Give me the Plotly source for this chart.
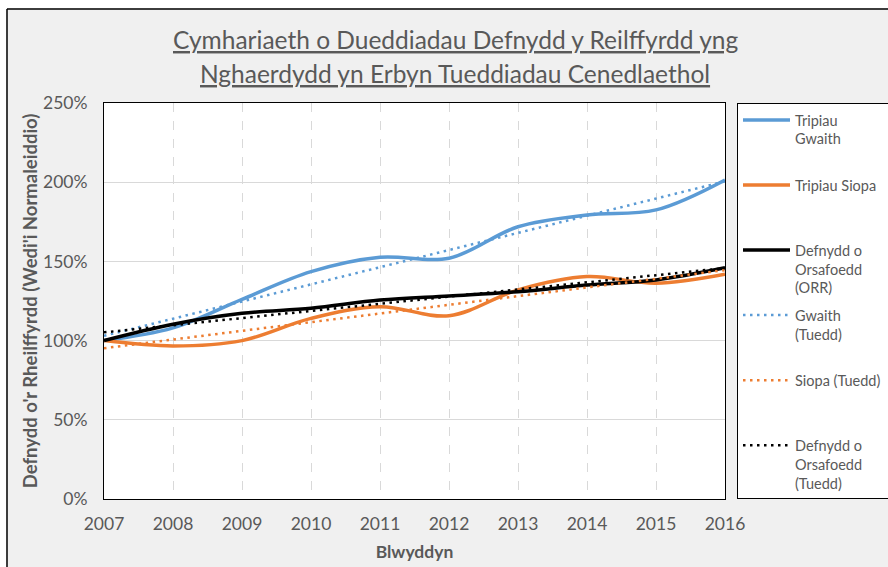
import plotly.graph_objects as go

years = [2007, 2008, 2009, 2010, 2011, 2012, 2013, 2014, 2015, 2016]
gwaith = [100, 108, 126, 143.5, 152.6, 152, 171.9, 179.3, 182.5, 201.4]
siopa = [100, 96.6, 100, 114, 121.4, 115.7, 132, 140.4, 136.2, 141.9]
orr = [100, 110.3, 117.2, 120.4, 125.6, 128.2, 130.9, 135.1, 138.3, 146]

trend_years = [2007, 2016]
gwaith_trend = [103, 200.5]
siopa_trend = [95.2, 144.5]
orr_trend = [105.2, 145.8]

NB = "\u00a0"
names = ["Tripiau<br>Gwaith<br>" + NB, "Tripiau Siopa<br>" + NB + "<br>" + NB * 40,
         "Defnydd o<br>Orsafoedd<br>(ORR)", "Gwaith<br>(Tuedd)<br>" + NB,
         "Siopa (Tuedd)<br>" + NB + "<br>" + NB, "Defnydd o<br>Orsafoedd<br>(Tuedd)"]

BLUE = "#5B9BD5"
ORANGE = "#ED7D31"
BLACK = "#000000"
GREY = "#595959"
FONT = "Lato"

W, H = 888, 567
L, R, T, B = 104, 725, 103, 499

fig = go.Figure()
fig.add_trace(go.Scatter(x=years, y=gwaith, mode="lines", name=names[0], legendgroup="a",
                         line=dict(color=BLUE, width=3.5, shape="spline")))
fig.add_trace(go.Scatter(x=years, y=siopa, mode="lines", name=names[1], legendgroup="b",
                         line=dict(color=ORANGE, width=3.5, shape="spline")))
fig.add_trace(go.Scatter(x=years, y=orr, mode="lines", name=names[2], legendgroup="c",
                         line=dict(color=BLACK, width=3.5, shape="spline")))
fig.add_trace(go.Scatter(x=trend_years, y=gwaith_trend, mode="lines", name=names[3], legendgroup="d",
                         line=dict(color=BLUE, width=2.5, dash="2.5px,4.5px")))
fig.add_trace(go.Scatter(x=trend_years, y=siopa_trend, mode="lines", name=names[4], legendgroup="e",
                         line=dict(color=ORANGE, width=2.5, dash="2.5px,4.5px")))
fig.add_trace(go.Scatter(x=trend_years, y=orr_trend, mode="lines", name=names[5], legendgroup="f",
                         line=dict(color=BLACK, width=2.5, dash="2.5px,4.5px")))

pw = R - L
ph = B - T

def px_x(p):
    return (p - L) / pw

def px_y(p):
    return (B - p) / ph

fig.update_layout(
    width=W, height=H,
    margin=dict(l=L, r=W - R, t=T, b=H - B, autoexpand=False),
    paper_bgcolor="#f0f0f0",
    plot_bgcolor="#ffffff",
    font=dict(family=FONT, color=GREY),
    showlegend=True,
    legend=dict(
        x=px_x(737), y=1.0, xanchor="left", yanchor="top",
        bgcolor="#ffffff", bordercolor=BLACK, borderwidth=1,
        font=dict(family=FONT, size=14.5, color=GREY),
        itemwidth=47, valign="top", tracegroupgap=5.5,
    ),
    xaxis=dict(
        range=[2007, 2016], dtick=1, tick0=2007,
        showgrid=True, gridcolor="#d9d9d9", griddash="dash", gridwidth=1,
        showline=True, linecolor=BLACK, linewidth=1, mirror=True,
        ticks="", ticklabelstandoff=9,
        tickfont=dict(family=FONT, size=17.5, color=GREY),
        title=dict(text="<b>Blwyddyn</b>", font=dict(family=FONT, size=17.5, color=GREY), standoff=12),
        zeroline=False,
    ),
    yaxis=dict(
        range=[0, 250], dtick=50, ticksuffix="%",
        showgrid=True, gridcolor="#d9d9d9", gridwidth=1,
        showline=True, linecolor=BLACK, linewidth=1, mirror=True,
        ticks="", ticklabelstandoff=12,
        tickfont=dict(family=FONT, size=17.5, color=GREY),
        title=dict(text="<b>Defnydd o'r Rheilffyrdd (Wedi'i Normaleiddio)</b>",
                   font=dict(family=FONT, size=18.5, color=GREY), standoff=0),
        zeroline=False,
    ),
)

# Title lines
title_lines = ["<u>Cymhariaeth o Dueddiadau Defnydd y Reilffyrdd yng</u>",
               "<u>Nghaerdydd yn Erbyn Tueddiadau Cenedlaethol</u>"]
for line, yc in zip(title_lines, [39, 73]):
    fig.add_annotation(text=line, xref="paper", yref="paper", x=px_x(455), y=px_y(yc),
                       xanchor="center", yanchor="middle", showarrow=False,
                       font=dict(family=FONT, size=24.5, color=GREY))

# White page strip outside the chart frame (top and left), then frame border
fig.add_shape(type="rect", xref="paper", yref="paper", x0=px_x(-5), x1=px_x(W + 20),
              y0=px_y(8.3), y1=px_y(-5), fillcolor="#ffffff", line=dict(width=0))
fig.add_shape(type="rect", xref="paper", yref="paper", x0=px_x(-5), x1=px_x(6.3),
              y0=px_y(H + 20), y1=px_y(-5), fillcolor="#ffffff", line=dict(width=0))
fig.add_shape(type="line", xref="paper", yref="paper", x0=px_x(7), x1=px_x(W + 20),
              y0=px_y(9), y1=px_y(9), line=dict(color=BLACK, width=1.5))
fig.add_shape(type="line", xref="paper", yref="paper", x0=px_x(7), x1=px_x(7),
              y0=px_y(9), y1=px_y(H + 20), line=dict(color=BLACK, width=1.5))

fig.write_html("out.html",
               config={"displayModeBar": False},
               post_script="document.body.style.margin='0';document.body.style.overflow='hidden';"
                           "document.documentElement.style.overflow='hidden';")
